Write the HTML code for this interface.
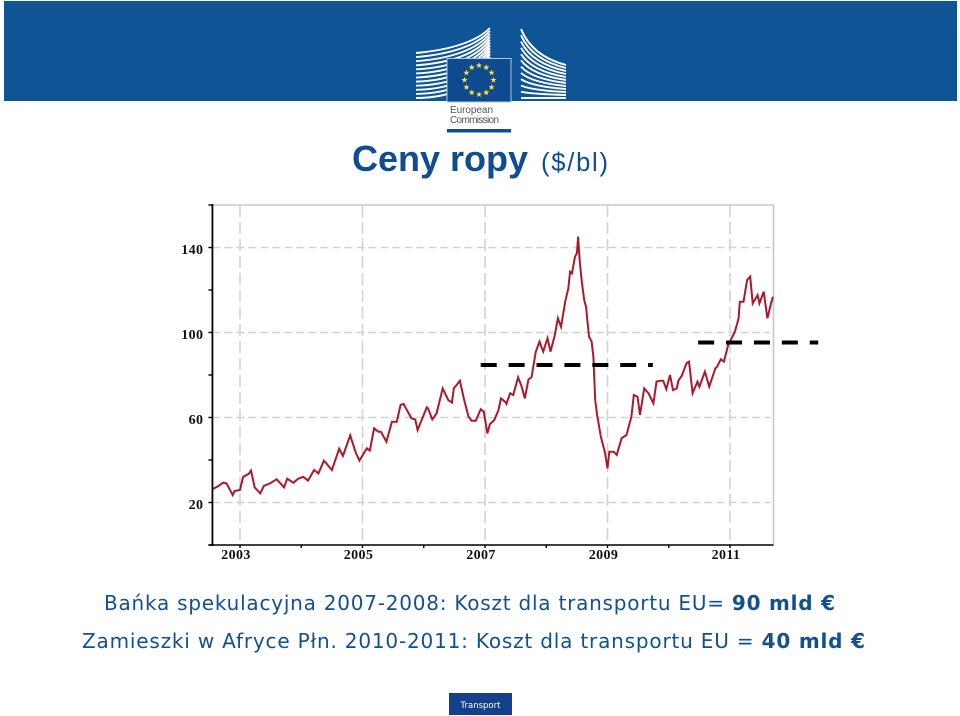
<!DOCTYPE html>
<html lang="pl">
<head>
<meta charset="utf-8">
<title>Ceny ropy</title>
<style>
html,body{margin:0;padding:0;background:#fff;}
#slide{position:relative;width:960px;height:716px;overflow:hidden;background:#fff;}
svg{position:absolute;left:0;top:0;}
</style>
</head>
<body>
<div id="slide">
<svg id="art" width="960" height="716" viewBox="0 0 960 716">
  <rect x="4" y="1" width="953" height="100" fill="#0f5494"/>
  <g id="logo"></g>
  <text x="450" y="113" font-family="'Liberation Sans',sans-serif" font-size="10" fill="#555" textLength="43">European</text>
  <text x="450" y="123" font-family="'Liberation Sans',sans-serif" font-size="10" fill="#555" textLength="49">Commission</text>
  <rect x="447" y="129" width="64" height="3.5" fill="#0f4c8a"/>

  <text x="352" y="171" font-family="'Liberation Sans',sans-serif" font-size="36" font-weight="bold" fill="#0f4c92" textLength="176">Ceny ropy</text>
  <text x="541" y="171" font-family="'Liberation Sans',sans-serif" font-size="25.5" fill="#0f4c92" textLength="67">($/bl)</text>

  <g id="chart"></g>

  <text x="104" y="610" font-family="'DejaVu Sans',sans-serif" font-size="20" fill="#14508e" textLength="731">Bańka spekulacyjna 2007-2008: Koszt dla transportu EU= <tspan font-weight="bold">90 mld €</tspan></text>
  <text x="82" y="648" font-family="'DejaVu Sans',sans-serif" font-size="20" fill="#14508e" textLength="783">Zamieszki w Afryce Płn. 2010-2011: Koszt dla transportu EU = <tspan font-weight="bold">40 mld €</tspan></text>

  <rect x="449" y="693" width="63" height="22" fill="#12408a"/>
  <text x="480.5" y="708" text-anchor="middle" font-family="'DejaVu Sans',sans-serif" font-size="8.5" fill="#fff">Transport</text>
</svg>
</div>
<script>
/* ---- chart data ---- */
var dates = [2002.55,2002.65,2002.72,2002.78,2002.88,2002.91,2003.00,2003.05,2003.14,2003.18,2003.24,2003.33,2003.39,2003.49,2003.60,2003.72,2003.77,2003.87,2003.95,2004.03,2004.11,2004.21,2004.28,2004.37,2004.50,2004.62,2004.68,2004.80,2004.89,2004.95,2005.07,2005.12,2005.19,2005.26,2005.30,2005.39,2005.48,2005.56,2005.62,2005.67,2005.73,2005.80,2005.86,2005.90,2005.97,2006.05,2006.07,2006.14,2006.21,2006.31,2006.40,2006.46,2006.49,2006.59,2006.66,2006.73,2006.78,2006.85,2006.93,2006.98,2007.04,2007.08,2007.15,2007.22,2007.26,2007.33,2007.35,2007.41,2007.46,2007.54,2007.60,2007.65,2007.71,2007.76,2007.83,2007.89,2007.95,2008.02,2008.07,2008.14,2008.19,2008.24,2008.31,2008.36,2008.39,2008.42,2008.47,2008.50,2008.52,2008.55,2008.58,2008.62,2008.65,2008.67,2008.70,2008.74,2008.77,2008.80,2008.83,2008.89,2008.96,2009.00,2009.03,2009.10,2009.15,2009.23,2009.31,2009.39,2009.43,2009.49,2009.53,2009.60,2009.67,2009.75,2009.80,2009.86,2009.91,2009.96,2010.02,2010.07,2010.13,2010.16,2010.21,2010.29,2010.33,2010.39,2010.47,2010.50,2010.59,2010.66,2010.76,2010.79,2010.85,2010.90,2010.97,2011.08,2011.14,2011.16,2011.22,2011.28,2011.33,2011.37,2011.45,2011.48,2011.55,2011.61,2011.67,2011.70];
var prices = [26.2,27.8,29.3,29.0,23.5,25.4,25.9,32.1,33.4,35.0,27.1,24.3,27.8,29.0,30.9,27.1,31.2,29.3,31.2,32.1,30.3,35.3,33.7,39.7,35.3,45.3,41.9,51.6,43.4,39.7,45.5,44.4,54.9,53.3,53.3,48.6,58.0,58.0,65.9,66.4,63.2,59.6,59.1,54.1,59.1,64.8,64.3,59.1,62.0,73.7,68.2,67.0,73.7,77.2,68.2,60.4,58.5,58.5,63.9,62.7,52.5,56.9,58.8,63.5,69.0,67.4,66.4,71.4,70.6,78.9,74.5,69.0,78.0,78.9,91.0,95.7,91.0,97.3,91.0,98.8,106.7,102.7,114.5,120.8,128.6,127.9,135.7,137.3,145.1,132.6,123.9,115.3,111.9,105.9,98.0,95.7,88.6,68.2,61.2,51.0,43.2,36.1,43.9,43.9,42.4,50.2,51.8,60.4,70.6,69.8,61.2,73.7,71.4,66.7,76.9,77.3,77.3,73.3,80.0,72.9,73.7,77.6,79.5,85.5,86.3,71.4,76.9,74.5,81.6,74.5,83.1,83.9,87.4,86.3,94.1,100.4,106.7,114.5,114.5,124.7,126.3,113.7,117.6,113.7,119.2,106.7,113.7,116.8];
var yTickValues = [0,20,40,60,80,100,120,140,160];
var yLabelValues = [20,60,100,140];
var xTickYears = [2003,2004,2005,2006,2007,2008,2009,2010,2011];
var xLabelYears = [2003,2005,2007,2009,2011];
var bubbleLevel = 84.7;
var bubbleSpan = [2006.93,2009.74];
var unrestLevel = 95.3;
var unrestSpan = [2010.48,2012.44];

/* ---- axis functions ---- */
function xScale(year){ return 240 + (year - 2003) * 61.25; }
function yScale(value){ return 545 - value * 2.125; }

var NS = 'http://www.w3.org/2000/svg';
function mk(parent, tag, attrs, txt){
  var el = document.createElementNS(NS, tag);
  for (var k in attrs) el.setAttribute(k, attrs[k]);
  if (txt !== undefined) el.textContent = txt;
  parent.appendChild(el);
  return el;
}
var chart = document.getElementById('chart');
var plotLeft = xScale(2002.55), plotRight = 773.5, plotBottom = yScale(0), plotTop = yScale(160);
var el;

/* plot frame */
el = mk(chart, 'path', {d:'M' + plotLeft + ' ' + plotTop + 'H' + plotRight + 'V' + plotBottom, fill:'none', stroke:'#c8c8c8', 'stroke-width':1.6});



/* horizontal grid */
yLabelValues.forEach(function(v){
  var g = mk(chart, 'line', {x1:plotLeft, x2:plotRight - 3, y1:yScale(v), y2:yScale(v), stroke:'#d2d2d2', 'stroke-width':1.4, 'stroke-dasharray':'8 4'});
  
  
});
/* vertical grid */
xLabelYears.forEach(function(y){
  var g = mk(chart, 'line', {x1:xScale(y), x2:xScale(y), y1:plotTop, y2:plotBottom, stroke:'#d2d2d2', 'stroke-width':1.6, 'stroke-dasharray':'12 5'});
  
  
});

/* price line */
var linePts = dates.map(function(d, i){ return xScale(d).toFixed(1) + ',' + yScale(prices[i]).toFixed(1); }).join(' ');
el = mk(chart, 'polyline', {points:linePts, fill:'none', stroke:'#ab1a2c', 'stroke-width':2, 'stroke-linejoin':'miter'});



/* reference dashed levels */
el = mk(chart, 'line', {x1:xScale(bubbleSpan[0]), x2:xScale(bubbleSpan[1]), y1:yScale(bubbleLevel), y2:yScale(bubbleLevel), stroke:'#000', 'stroke-width':4, 'stroke-dasharray':'16 11.9'});


el = mk(chart, 'line', {x1:xScale(unrestSpan[0]), x2:xScale(unrestSpan[1]), y1:yScale(unrestLevel), y2:yScale(unrestLevel), stroke:'#000', 'stroke-width':4, 'stroke-dasharray':'16 11.9'});



/* axes */
el = mk(chart, 'line', {x1:plotLeft, x2:plotLeft, y1:plotTop - 1, y2:plotBottom + 1, stroke:'#000', 'stroke-width':1.8});


el = mk(chart, 'line', {x1:plotLeft - 4, x2:plotRight, y1:plotBottom, y2:plotBottom, stroke:'#000', 'stroke-width':1.6});



yTickValues.forEach(function(v){
  var t = mk(chart, 'line', {x1:plotLeft - 4, x2:plotLeft, y1:yScale(v), y2:yScale(v), stroke:'#000', 'stroke-width':1.4});
  
  
});
xTickYears.forEach(function(y){
  var t = mk(chart, 'line', {x1:xScale(y), x2:xScale(y), y1:plotBottom, y2:plotBottom + 3, stroke:'#000', 'stroke-width':1.4});
  
  
});
yLabelValues.forEach(function(v){
  var t = mk(chart, 'text', {x:plotLeft - 9, y:yScale(v) + 6.5, 'text-anchor':'end', 'font-family':"'Liberation Serif',serif", 'font-weight':'bold', 'font-size':14, 'letter-spacing':0.4, fill:'#111'}, String(v));
  
  
});
xLabelYears.forEach(function(y){
  var t = mk(chart, 'text', {x:xScale(y) - 4, y:559, 'text-anchor':'middle', 'font-family':"'Liberation Serif',serif", 'font-weight':'bold', 'font-size':14, 'letter-spacing':0.4, fill:'#111'}, String(y));
  
  
});

/* ---- logo artwork ---- */
var logo = document.getElementById('logo');
var i, f, p;
for (i = 0; i < 12; i++){
  f = i / 11;
  p = mk(logo, 'path', {d:'M416 ' + (53 + 45 * f) + ' Q470 ' + (48 + 50 * f) + ' 490 ' + (28 + 32 * f), fill:'none', stroke:'#fff', 'stroke-width':1.9});
  
  
}
for (i = 0; i < 12; i++){
  f = i / 11;
  p = mk(logo, 'path', {d:'M521 ' + (29 + 69 * f) + ' Q532 ' + (56 + 42 * f) + ' 566 ' + (65 + 33 * f), fill:'none', stroke:'#fff', 'stroke-width':1.9});
  
  
}
p = mk(logo, 'rect', {x:447, y:58.5, width:64, height:43.5, fill:'#0f4a8e', stroke:'#a9c8e0', 'stroke-width':1});


for (i = 0; i < 12; i++){
  var a = i * Math.PI / 6, cx = 479 + 14.5 * Math.sin(a), cy = 80 - 14.5 * Math.cos(a), pts = [];
  for (var j = 0; j < 10; j++){
    var r = j % 2 ? 1.3 : 3.3, b = j * Math.PI / 5;
    pts.push((cx + r * Math.sin(b)).toFixed(2) + ',' + (cy - r * Math.cos(b)).toFixed(2));
  }
  p = mk(logo, 'polygon', {points:pts.join(' '), fill:'#ffe53a'});
  
  
}
</script>
</body>
</html>
